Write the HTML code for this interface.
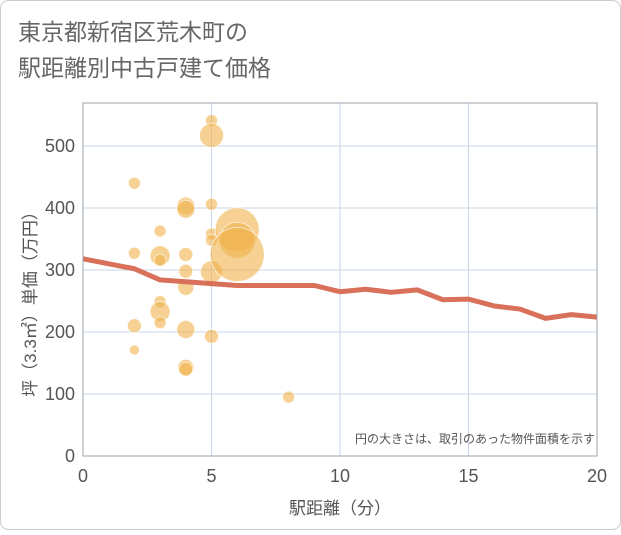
<!DOCTYPE html>
<html><head><meta charset="utf-8"><style>
body{margin:0;background:#fff;}
svg text{font-family:"Liberation Sans","Noto Sans CJK JP",sans-serif;}
</style></head><body>
<svg width="621" height="530" xmlns="http://www.w3.org/2000/svg">
<rect x="0.5" y="0.5" width="620" height="529" rx="8" fill="#fff" stroke="#ccc"/>
<text x="18" y="40" font-size="23" fill="#666">東京都新宿区荒木町の</text>
<text x="18" y="76" font-size="23" fill="#666">駅距離別中古戸建て価格</text>
<g id="grid"></g>
<g id="bubbles"></g>
<g id="line"></g>
<g id="axes"></g>
<text x="595" y="443" font-size="12" fill="#555" text-anchor="end">円の大きさは、取引のあった物件面積を示す</text>
<text x="340" y="514" font-size="17" fill="#555" text-anchor="middle">駅距離（分）</text>
<text transform="translate(36,300) rotate(-90)" font-size="17" fill="#555" text-anchor="middle">坪（3.3㎡）単価（万円）</text>
</svg>
<script>
const xTicks=[0,5,10,15,20];
const yTicks=[0,100,200,300,400,500];
const bubbleX=[2,2,2,2,3,3,3,3,3,3,4,4,4,4,4,4,4,4,5,5,5,5,5,5,5,6,6,6,8];
const bubbleY=[440,327,210,171,363,323,316,249,233,215,403,398,325,298,272,204,143,140,541,517,406,358,348,297,193,365,348,325,95];
const bubbleR=[6,6,7,5,6,10,6,6,10,6,9,9,7,7,8,9,8,7,6,12,6,6,6,11,7,22,18,27,6];
const lineX=[0,1,2,3,4,5,6,7,8,9,10,11,12,13,14,15,16,17,18,19,20];
const lineY=[318,310,302,284,281,278,275,275,275,275,265,269,264,268,252,253,242,237,222,228,224];
const NS="http://www.w3.org/2000/svg";
const L=83,R=597,T=103,B=456;
const xs=v=>L+v/20*(R-L);
const ys=v=>B-v*0.62;
function mk(t,a,p){const e=document.createElementNS(NS,t);for(const k in a)e.setAttribute(k,a[k]);p.appendChild(e);return e;}
const g=document.getElementById('grid'),ax=document.getElementById('axes'),bb=document.getElementById('bubbles'),ln=document.getElementById('line');
yTicks.forEach(v=>{if(v>0){const e=mk('line',{x1:L,x2:R,y1:ys(v),y2:ys(v),stroke:'#c8d6e3','stroke-width':1},g);

}
const t=mk('text',{x:L-8,y:ys(v)+6,'font-size':18,fill:'#555','text-anchor':'end'},ax);t.textContent=v;

});
xTicks.forEach(v=>{if(v>0&&v<20){const e=mk('line',{x1:xs(v),x2:xs(v),y1:T,y2:B,stroke:'#c8d6e3','stroke-width':1},g);

}
const t=mk('text',{x:xs(v),y:B+26,'font-size':18,fill:'#555','text-anchor':'middle'},ax);t.textContent=v;

});
const fr=mk('rect',{x:L,y:T,width:R-L,height:B-T,fill:'none',stroke:'#9aa4ae','stroke-width':1},ax);


bubbleX.forEach((x,i)=>{const c=mk('circle',{cx:xs(x),cy:ys(bubbleY[i]),r:bubbleR[i],fill:'#f0b24b','fill-opacity':0.6,stroke:'#fff','stroke-opacity':0.6,'stroke-width':1},bb);

});
const p=mk('polyline',{points:lineX.map((x,i)=>xs(x)+','+ys(lineY[i])).join(' '),fill:'none',stroke:'#d9705a','stroke-width':5,'stroke-linejoin':'round'},ln);


</script>
</body></html>
